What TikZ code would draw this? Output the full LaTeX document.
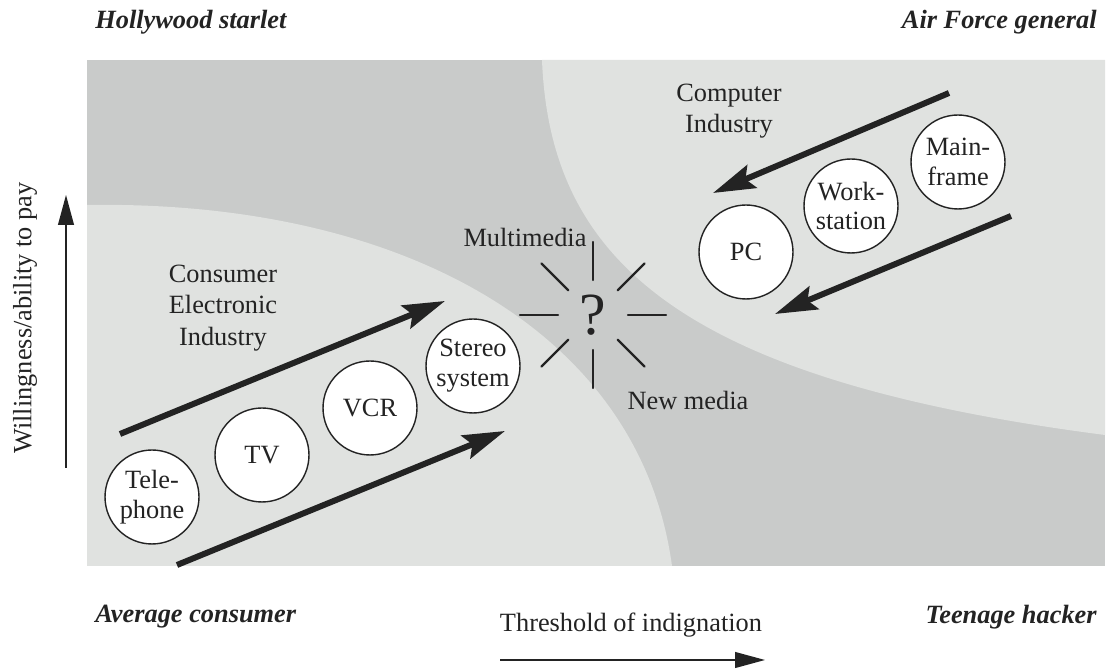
\documentclass[tikz,border=0pt]{standalone}
\usepackage{fontspec}
\setmainfont{Liberation Serif}
\usetikzlibrary{arrows.meta}
\definecolor{darkzone}{RGB}{201,203,202}
\definecolor{lightzone}{RGB}{224,226,224}
\definecolor{ink}{RGB}{35,35,35}
\tikzset{
  product/.style={circle, draw=ink, fill=white, line width=0.8pt, minimum size=1.88cm,
    inner sep=0pt, align=center, text=ink, font=\fontsize{15}{17}\selectfont},
  txt/.style={inner sep=0pt, align=center, text=ink, font=\fontsize{15}{18}\selectfont},
  corner/.style={inner sep=0pt, text=ink, font=\fontsize{15}{18}\selectfont\bfseries\itshape},
  trend/.style={line width=3.4pt, draw=ink, -{Stealth[length=24pt,width=14pt,inset=4pt]}},
  axisarrow/.style={line width=0.8pt, draw=ink, -{Triangle[length=17pt,width=9pt]}},
  ray/.style={line width=1.4pt, draw=ink, line cap=round}
}
\begin{document}
\begin{tikzpicture}[x=0.02cm, y=-0.02cm]
  \useasboundingbox (0,0) rectangle (1117,671);
  % market map
  \fill[darkzone] (87,60) rectangle (1105,566);
  \fill[lightzone] (87,205) .. controls (400,200) and (640,330) .. (672,566) -- (87,566) -- cycle;
  \fill[lightzone] (542,60) .. controls (550,260) and (680,380) .. (1105,435) -- (1105,60) -- cycle;

  \node[corner, anchor=west] (starlet) at (95,22) {Hollywood starlet};
  \node[corner, anchor=east] (general) at (1097,22) {Air Force general};
  \node[corner, anchor=west] (consumer) at (95,617) {Average consumer};
  \node[corner, anchor=east] (hacker) at (1097,617) {Teenage hacker};

  % axes
  \node[txt, rotate=90] (pay) at (25,318) {Willingness/ability to pay};
  \coordinate (ylo) at (66,468);
  \coordinate (yhi) at (66,195);
  \draw[axisarrow] (ylo) -- (yhi);
  \node[txt] (indig) at (631,625) {Threshold of indignation};
  \coordinate (xlo) at (500,660);
  \coordinate (xhi) at (765,660);
  \draw[axisarrow] (xlo) -- (xhi);

  % consumer electronics
  \node[product] (phone) at (152,497) {Tele-\\phone};
  \node[product] (tv) at (262,455) {TV};
  \node[product] (vcr) at (370,408) {VCR};
  \node[product] (stereo) at (473,366) {Stereo\\system};
  \node[txt] (cei) at (223,308) {Consumer\\Electronic\\Industry};
  \coordinate (ce1a) at (120,434);
  \coordinate (ce1b) at (445,301);
  \coordinate (ce2a) at (177,565);
  \coordinate (ce2b) at (505,431);
  \draw[trend] (ce1a) -- (ce1b);
  \draw[trend] (ce2a) -- (ce2b);

  % computers
  \node[product] (pc) at (746,252) {PC};
  \node[product] (ws) at (851,206) {Work-\\station};
  \node[product] (mf) at (958,162) {Main-\\frame};
  \node[txt] (ci) at (729,111) {Computer\\Industry};
  \coordinate (cp1a) at (949,93);
  \coordinate (cp1b) at (713,193);
  \coordinate (cp2a) at (1011,216);
  \coordinate (cp2b) at (775,314);
  \draw[trend] (cp1a) -- (cp1b);
  \draw[trend] (cp2a) -- (cp2b);

  % where the two meet
  \coordinate (burst) at (593,315);
  \node[text=ink, inner sep=0pt, font=\fontsize{34}{36}\selectfont] (q) at (burst) {?};
  \foreach \a in {0,45,...,315}
    \draw[ray] (burst) ++(\a:35) -- ++(\a:38);
  \node[txt] (mm) at (525,237) {Multimedia};
  \node[txt] (nm) at (688,400) {New media};
\end{tikzpicture}
\end{document}
